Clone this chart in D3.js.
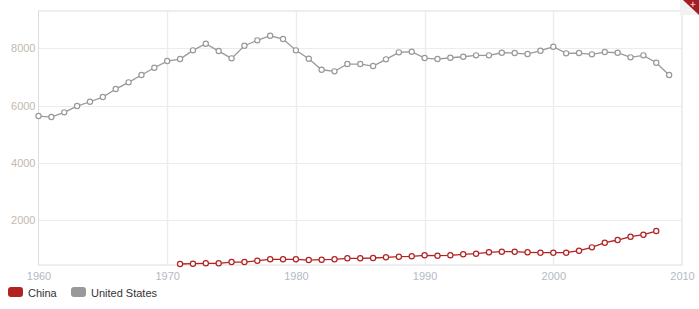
<!DOCTYPE html>
<html><head><meta charset="utf-8">
<script src="https://cdn.jsdelivr.net/npm/d3@7"></script>
<style>body{margin:0;background:#fff;}svg{display:block;font-family:"Liberation Sans",Arial,sans-serif;}</style>
</head><body>
<svg id="c" width="699" height="309"></svg>
<script>
const usYears = d3.range(1960, 2010);
const usValues = [5636,5601,5766,5986,6136,6301,6580,6815,7070,7325,7559,7629,7934,8164,7909,7654,8094,8283,8444,8329,7934,7640,7255,7199,7455,7455,7385,7619,7864,7885,7664,7629,7675,7710,7759,7759,7850,7839,7804,7920,8059,7829,7839,7794,7874,7850,7689,7759,7500,7070];
const cnYears = d3.range(1971, 2009);
const cnValues = [462,472,486,486,531,531,577,626,626,626,601,612,626,661,661,671,696,717,731,766,752,766,801,822,871,892,892,871,857,857,857,927,1045,1206,1301,1416,1486,1615];
const xTicks = [1960,1970,1980,1990,2000,2010];
const yTicks = [2000,4000,6000,8000];
const seriesNames = ["China","United States"];
const seriesColors = ["#b22222","#999999"];

const svg = d3.select("#c");
const L=38.5, R=682, T=11, B=265;
const x = d3.scaleLinear().domain([1960,2010]).range([L,R]);
const y = d3.scaleLinear().domain([427,9310]).range([B,T]);

svg.append("g").selectAll("line").data(yTicks).join("line")
  .attr("x1",L).attr("x2",R).attr("y1",d=>Math.round(y(d))+0.5).attr("y2",d=>Math.round(y(d))+0.5)
  .attr("stroke","#ececec");
svg.append("g").selectAll("line").data(xTicks.slice(1,-1)).join("line")
  .attr("y1",T).attr("y2",B).attr("x1",d=>Math.round(x(d))+0.5).attr("x2",d=>Math.round(x(d))+0.5)
  .attr("stroke","#ececec").attr("stroke-width",1.5);
svg.append("rect").attr("x",L).attr("y",T).attr("width",R-L).attr("height",B-T)
  .attr("fill","none").attr("stroke","#dddddd");

const yAxis = d3.axisLeft(y).tickValues(yTicks).tickSize(0).tickPadding(3).tickFormat(d3.format("d"));
const gy = svg.append("g").attr("transform",`translate(${L},0)`).call(yAxis);
gy.select(".domain").remove();
gy.selectAll("text").attr("fill","#c4b9ae").attr("font-size","11px").attr("font-family","Liberation Sans, Arial");
const xAxis = d3.axisBottom(x).tickValues(xTicks).tickSize(0).tickPadding(7).tickFormat(d3.format("d"));
const gx = svg.append("g").attr("transform",`translate(0,${B})`).call(xAxis);
gx.select(".domain").remove();
gx.selectAll("text").attr("fill","#b4b9c4").attr("font-size","11px").attr("font-family","Liberation Sans, Arial");

const line = d3.line().x(d=>x(d[0])).y(d=>y(d[1]));
function drawSeries(years, vals, color){
  const data = years.map((yr,i)=>[yr,vals[i]]);
  svg.append("path").datum(data).attr("d",line).attr("fill","none").attr("stroke",color).attr("stroke-width",1.3);
  svg.append("g").selectAll("circle").data(data).join("circle")
    .attr("cx",d=>x(d[0])).attr("cy",d=>y(d[1])).attr("r",2.6)
    .attr("fill","#fff").attr("stroke",color).attr("stroke-width",1.2);
}
drawSeries(usYears, usValues, seriesColors[1]);
drawSeries(cnYears, cnValues, seriesColors[0]);

const lg = svg.append("g");
const lx = [8, 71];
seriesNames.forEach((n,i)=>{
  lg.append("rect").attr("x",lx[i]).attr("y",287).attr("width",15).attr("height",10).attr("rx",3).attr("fill",seriesColors[i]);
  lg.append("text").attr("x",lx[i]+20).attr("y",297).attr("font-size","11px").attr("fill","#333").text(n);
});

svg.append("rect").attr("x",680).attr("y",0).attr("width",19).attr("height",15).attr("fill","#f2f2f2");
svg.append("path").attr("d","M683,0 L699,0 L699,15 Z").attr("fill","#a51d24");
svg.append("text").attr("x",693).attr("y",7).attr("font-size","7px").attr("fill","#fff").attr("text-anchor","middle").attr("transform","rotate(45,693,5)").text("✕");
</script>
</body></html>
